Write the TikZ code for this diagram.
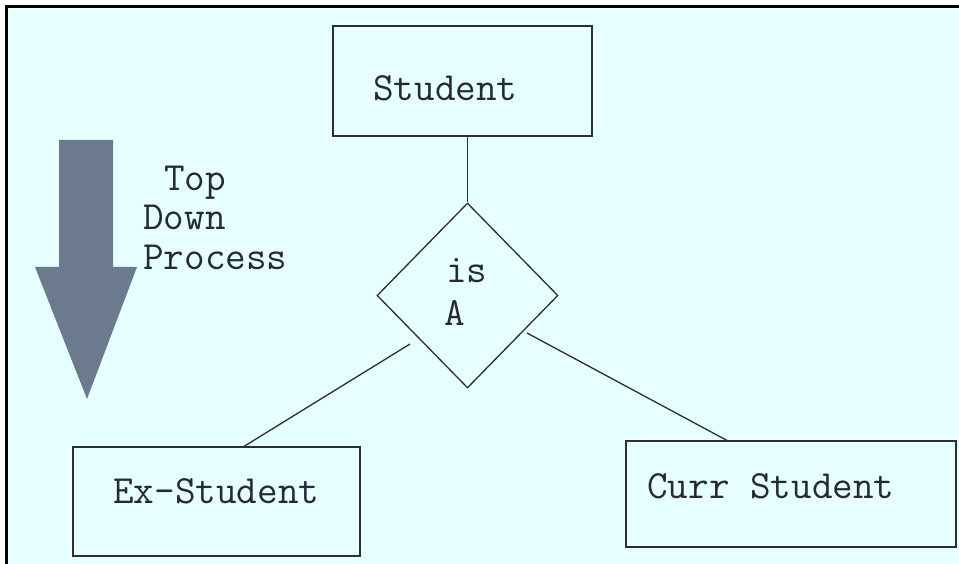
\documentclass[tikz,border=0pt]{standalone}
\usepackage{fontspec}
\usetikzlibrary{shapes.geometric}
\definecolor{paper}{RGB}{230,255,255}
\definecolor{ink}{RGB}{45,45,50}
\definecolor{txt}{RGB}{40,40,60}
\definecolor{slate}{RGB}{107,122,143}
\begin{document}
\begin{tikzpicture}[x=1pt,y=-1pt,
  entity/.style={draw=ink,line width=1.8pt,inner sep=0pt},
  rel/.style={draw=ink,line width=1.3pt,shape=diamond,inner sep=0pt,aspect=1},
  link/.style={draw=ink,line width=1.3pt},
  lbl/.style={font=\ttfamily\fontsize{40}{44}\selectfont,text=txt,inner sep=0pt,anchor=base west}]
  % page and frame
  \useasboundingbox (0,0) rectangle (959,564);
  \fill[white] (0,0) rectangle (959,564);
  \fill[paper] (6,7) rectangle (959,564);
  \draw[black,line width=3pt] (6,564) -- (6,7) -- (959,7);

  % entity boxes
  \node[entity,minimum width=259pt,minimum height=110pt] (student) at (462.5,81) {};
  \node[entity,minimum width=287pt,minimum height=109pt] (ex) at (216.5,501.5) {};
  \node[entity,minimum width=330pt,minimum height=106pt] (curr) at (791,494) {};

  % relationship diamond
  \node[rel,minimum width=181pt,minimum height=185pt] (isa) at (467.5,295.5) {};

  % labels
  \node[lbl] (tstudent) at (373,101) {Student};
  \node[lbl] (tex) at (113,503) {Ex-Student};
  \node[lbl] (tcurr) at (647,498) {Curr Student};
  \node[lbl] (tis) at (446,283) {is};
  \node[lbl] (ta) at (444,326) {A};
  \node[lbl] (ttop) at (164,191) {Top};
  \node[lbl] (tdown) at (143,230) {Down};
  \node[lbl] (tproc) at (143,270) {Process};

  % connectors
  \coordinate (isaL) at (410,344);
  \coordinate (isaR) at (527,333);
  \coordinate (exT) at (243,447);
  \coordinate (currT) at (728,441);
  \draw[link] (isa.north |- student.south) -- (isa.north);
  \draw[link] (isaL) -- (exT);
  \draw[link] (isaR) -- (currT);

  % top-down arrow
  \fill[slate] (59,140) -- (113,140) -- (113,267) -- (137,267) -- (87,399)
    -- (35,267) -- (59,267) -- cycle;
\end{tikzpicture}
\end{document}
